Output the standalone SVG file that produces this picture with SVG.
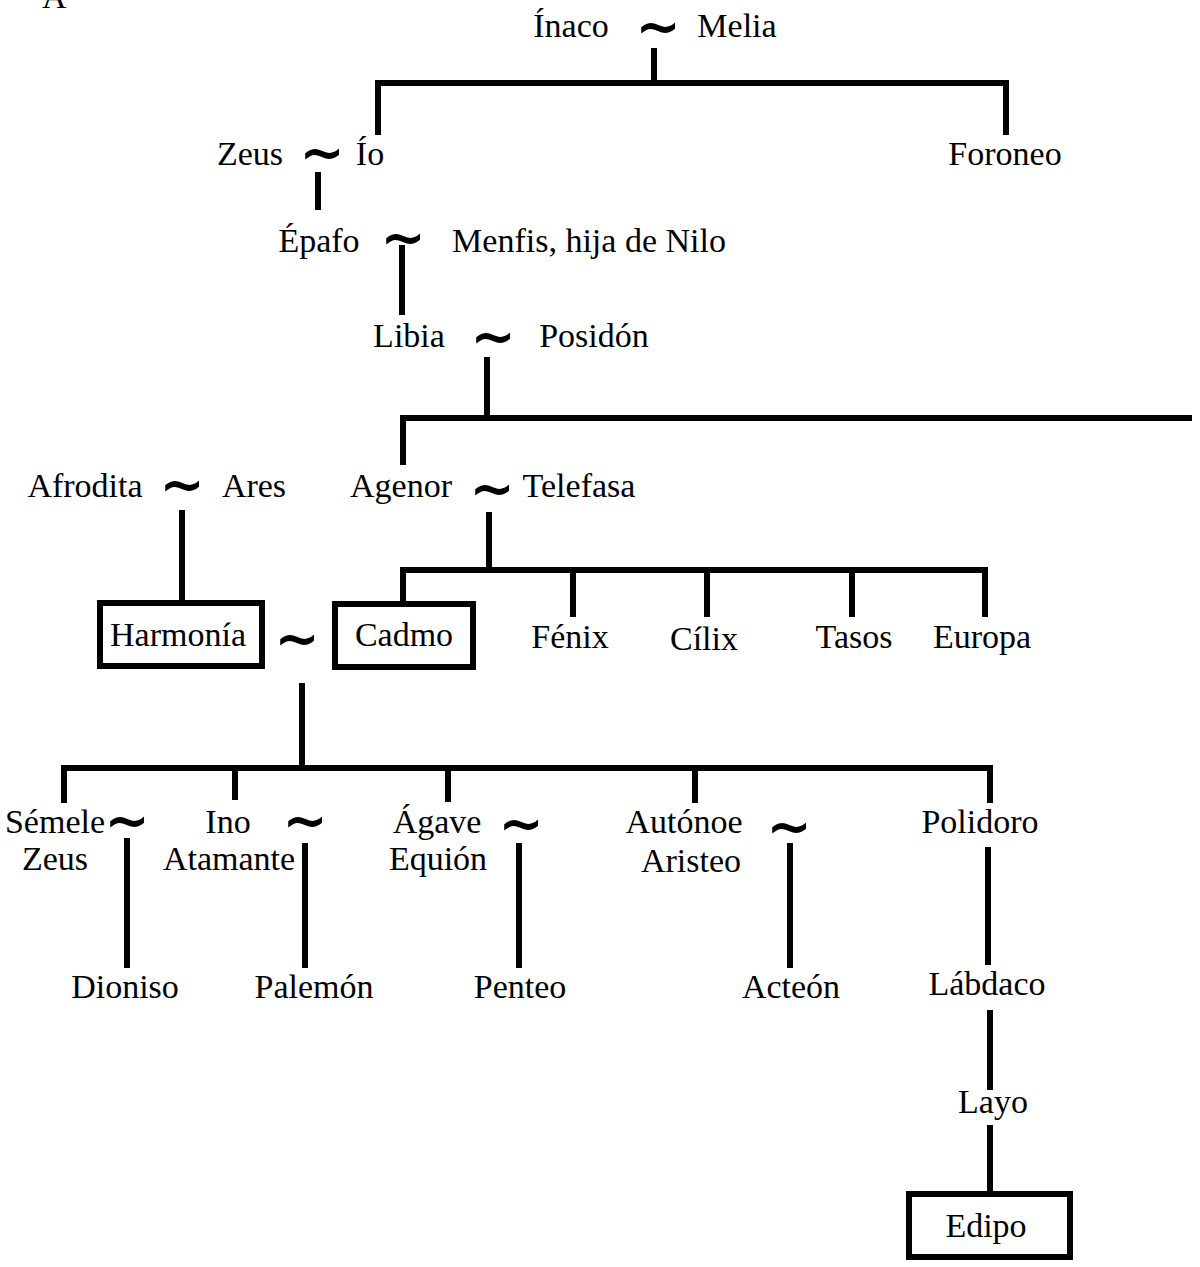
<svg xmlns="http://www.w3.org/2000/svg" width="1200" height="1267" viewBox="0 0 1200 1267">
  <style>
    .t { font-family: "Liberation Serif", "Times New Roman", serif; font-size: 34px; fill: #000; text-anchor: middle; }
    .ts { font-family: "Liberation Serif", "Times New Roman", serif; font-size: 34px; fill: #000; }
    .m { font-family: "DejaVu Sans", sans-serif; font-weight: bold; font-size: 54px; fill: #000; text-anchor: middle; }
    .ln { stroke: #000; stroke-width: 6; fill: none; stroke-linecap: butt; stroke-linejoin: miter; }
    .box { fill: none; stroke: #000; stroke-width: 6; }
  </style>
  <rect width="1200" height="1267" fill="#fff"/>

  <!-- section letter, cut at the top edge -->
  <text class="ts" x="42" y="8">A</text>

  <!-- connectors -->
  <g id="connectors">
    <path class="ln" d="M654 48 V83 M378 135 V83 H1006 V135"/>
    <path class="ln" d="M318 172 V210"/>
    <path class="ln" d="M402 245 V315"/>
    <path class="ln" d="M487 357 V418 M403 465 V418 H1192"/>
    <path class="ln" d="M182 510 V600"/>
    <path class="ln" d="M489 512 V570 M403 603 V570 H985 V617 M573 570 V617 M707 570 V617 M852 570 V617"/>
    <path class="ln" d="M302 683 V768 M64 803 V768 H990 V803 M235 768 V800 M448 768 V802 M695 768 V803"/>
    <path class="ln" d="M127 838 V968"/>
    <path class="ln" d="M305 843 V968"/>
    <path class="ln" d="M519 843 V968"/>
    <path class="ln" d="M790 843 V968"/>
    <path class="ln" d="M988 847 V965"/>
    <path class="ln" d="M990 1010 V1090"/>
    <path class="ln" d="M990 1125 V1193"/>
  </g>

  <!-- marriage signs -->
  <g id="marriages">
    <text class="m" x="658" y="45">~</text>
    <text class="m" x="322" y="171">~</text>
    <text class="m" x="403" y="256">~</text>
    <text class="m" x="493" y="355">~</text>
    <text class="m" x="182" y="503">~</text>
    <text class="m" x="492" y="507">~</text>
    <text class="m" x="297" y="657">~</text>
    <text class="m" x="127" y="839">~</text>
    <text class="m" x="305" y="839">~</text>
    <text class="m" x="521" y="842">~</text>
    <text class="m" x="789" y="845">~</text>
  </g>

  <g id="inaco"><text class="t" x="571" y="37">Ínaco</text></g>
  <g id="melia"><text class="t" x="737" y="37">Melia</text></g>
  <g id="zeus1"><text class="t" x="250" y="165">Zeus</text></g>
  <g id="io"><text class="t" x="370" y="165">Ío</text></g>
  <g id="foroneo"><text class="t" x="1005" y="165">Foroneo</text></g>
  <g id="epafo"><text class="t" x="319" y="252">Épafo</text></g>
  <g id="menfis"><text class="t" x="589" y="252">Menfis, hija de Nilo</text></g>
  <g id="libia"><text class="t" x="409" y="347">Libia</text></g>
  <g id="posidon"><text class="t" x="594" y="347">Posidón</text></g>
  <g id="afrodita"><text class="t" x="85" y="497">Afrodita</text></g>
  <g id="ares"><text class="t" x="254" y="497">Ares</text></g>
  <g id="agenor"><text class="t" x="401" y="497">Agenor</text></g>
  <g id="telefasa"><text class="t" x="579" y="497">Telefasa</text></g>
  <g id="harmonia">
    <rect class="box" x="100" y="603" width="162" height="63"/>
    <text class="t" x="178" y="646">Harmonía</text>
  </g>
  <g id="cadmo">
    <rect class="box" x="335" y="604" width="138" height="63"/>
    <text class="t" x="404" y="646">Cadmo</text>
  </g>
  <g id="fenix"><text class="t" x="570" y="648">Fénix</text></g>
  <g id="cilix"><text class="t" x="704" y="650">Cílix</text></g>
  <g id="tasos"><text class="t" x="854" y="648">Tasos</text></g>
  <g id="europa"><text class="t" x="982" y="648">Europa</text></g>
  <g id="semele"><text class="t" x="55" y="833">Sémele</text><text class="t" x="55" y="870">Zeus</text></g>
  <g id="ino"><text class="t" x="228" y="833">Ino</text><text class="t" x="229" y="870">Atamante</text></g>
  <g id="agave"><text class="t" x="437" y="833">Ágave</text><text class="t" x="438" y="870">Equión</text></g>
  <g id="autonoe"><text class="t" x="684" y="833">Autónoe</text><text class="t" x="691" y="872">Aristeo</text></g>
  <g id="polidoro"><text class="t" x="980" y="833">Polidoro</text></g>
  <g id="dioniso"><text class="t" x="125" y="998">Dioniso</text></g>
  <g id="palemon"><text class="t" x="314" y="998">Palemón</text></g>
  <g id="penteo"><text class="t" x="520" y="998">Penteo</text></g>
  <g id="acteon"><text class="t" x="791" y="998">Acteón</text></g>
  <g id="labdaco"><text class="t" x="987" y="995">Lábdaco</text></g>
  <g id="layo"><text class="t" x="993" y="1113">Layo</text></g>
  <g id="edipo">
    <rect class="box" x="909" y="1194" width="161" height="63"/>
    <text class="t" x="986" y="1237">Edipo</text>
  </g>
</svg>
